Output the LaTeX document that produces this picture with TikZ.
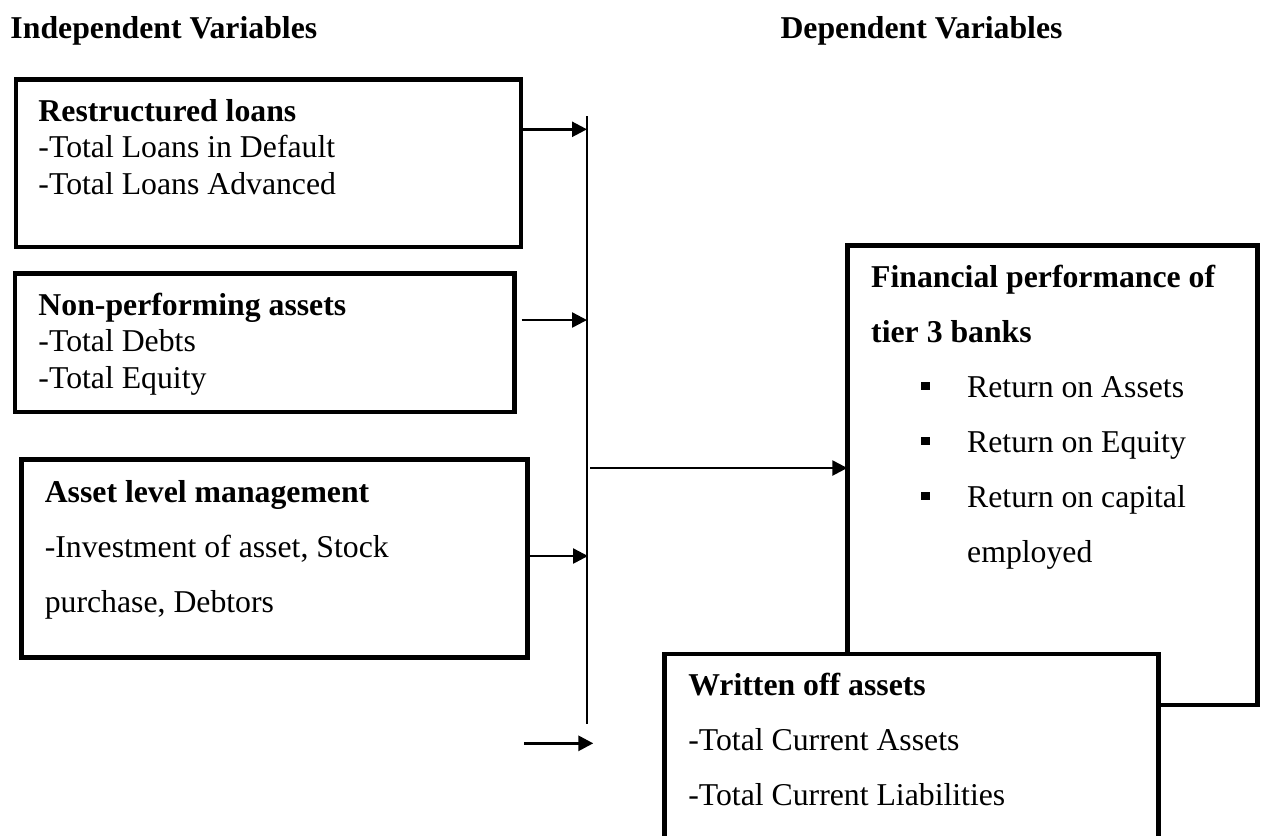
\documentclass[tikz,border=0pt]{standalone}
\usepackage{fontspec}
\setmainfont{Liberation Serif}
\usepackage{tikz}
\usetikzlibrary{arrows.meta,positioning}
\tikzstyle{varbox}=[draw, line width=1.8pt, rectangle, inner sep=0pt, outer sep=0pt, anchor=north west]
\tikzstyle{whitebox}=[varbox, fill=white]
\tikzstyle{tightlines}=[anchor=north west, inner sep=0pt, align=left, font=\fontsize{12.7}{14.6}\selectfont]
\tikzstyle{widelines}=[tightlines, font=\fontsize{12.7}{22}\selectfont]
\tikzstyle{heading}=[anchor=base west, inner sep=0pt, font=\fontsize{12.7}{14.6}\selectfont\bfseries]
\tikzstyle{feed}=[line width=1pt, -{Triangle[length=6pt,width=6pt]}]
\newcommand{\sqbullet}{\hspace*{20pt}\rule[2.7pt]{3.6pt}{3.4pt}\hspace*{14.8pt}}

\begin{document}
\begin{tikzpicture}[x=0.4pt,y=-0.4pt]
	\clip (0,0) rectangle (1263,835);
	\node[heading] (indep) at (10,38.3) {Independent Variables};
	\node[heading] (dep) at (780,38.3) {Dependent Variables};
	\node[varbox, minimum width=202pt, minimum height=67pt] (loans) at (16,79.5) {};
	\node[tightlines] (loanstext) at (38,95) {\strut\textbf{Restructured loans}\\-Total Loans in Default\\-Total Loans Advanced};
	\node[varbox, minimum width=199.8pt, minimum height=55.4pt] (npa) at (15,273.5) {};
	\node[tightlines] (npatext) at (38,289.4) {\strut\textbf{Non-performing assets}\\-Total Debts\\-Total Equity};
	\node[varbox, minimum width=202.4pt, minimum height=79.2pt] (assetmgmt) at (21.7,459.5) {};
	\node[widelines] (assetmgmttext) at (44.3,463.2) {\strut\textbf{Asset level management}\\-Investment of asset, Stock\\purchase, Debtors};
	\node[varbox, minimum width=164pt, minimum height=183.7pt] (perf) at (847.3,245.7) {};
	\node[widelines] (perftext) at (870.7,248.2) {\strut\textbf{Financial performance of}\\\textbf{tier 3 banks}\\\sqbullet Return on Assets\\\sqbullet Return on Equity\\\sqbullet Return on capital\\\hspace*{38.4pt}employed};
	\node[whitebox, minimum width=197.6pt, minimum height=100pt] (written) at (664.7,654) {};
	\node[widelines] (writtentext) at (687.8,656.5) {\strut\textbf{Written off assets}\\-Total Current Assets\\-Total Current Liabilities};
	\coordinate (bartop) at (587,116);
	\coordinate (barbot) at (587,724);
	\draw[line width=0.7pt] (bartop) -- (barbot);
	\coordinate (in1) at (587,129.3);
	\coordinate (in2) at (587,320);
	\coordinate (in3) at (588,556);
	\coordinate (out) at (590,468);
	\draw[feed] (in1 -| loans.east) -- (in1);
	\draw[feed] ([xshift=2.8pt]in2 -| npa.east) -- (in2);
	\draw[feed] (in3 -| assetmgmt.east) -- (in3);
	\draw[feed] (out) -- (out -| perf.west);
	\coordinate (loosestart) at (524.3,743.3);
	\coordinate (looseend) at (593.3,743.3);
	\draw[feed, line width=1.2pt] (loosestart) -- (looseend);
\end{tikzpicture}
\end{document}
